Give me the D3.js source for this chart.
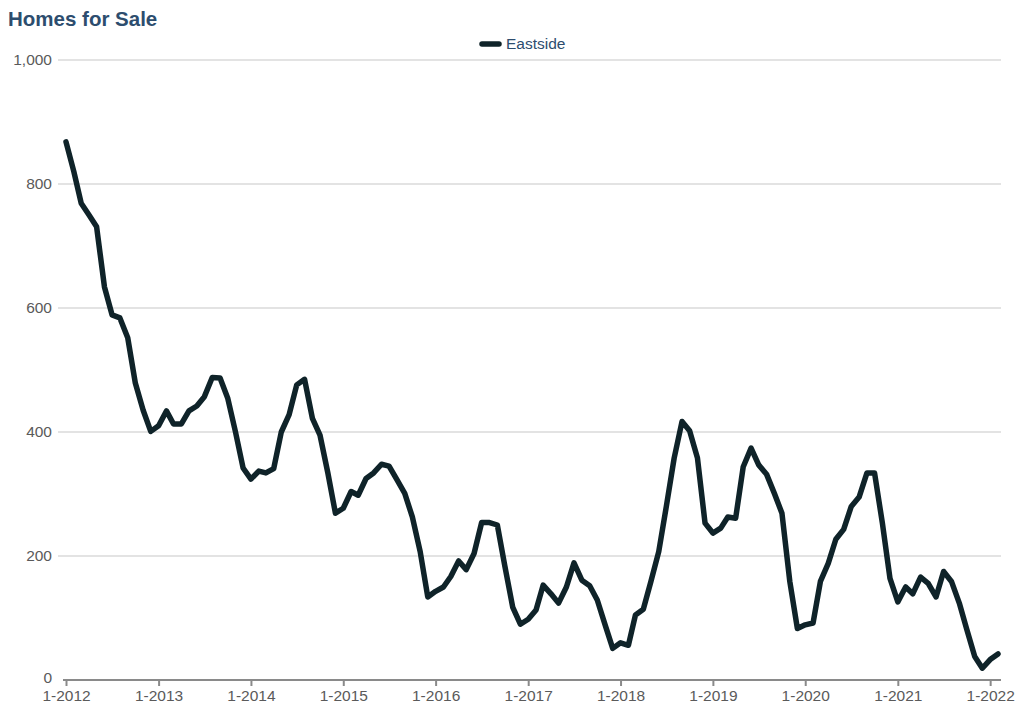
<!DOCTYPE html>
<html><head><meta charset="utf-8">
<script src="https://cdn.jsdelivr.net/npm/d3@7"></script>
<style>body{margin:0;background:#fff;font-family:"Liberation Sans",Arial,sans-serif;}</style>
</head><body><svg id="c" width="1024" height="710"></svg>
<script>
const title = "Homes for Sale";
const seriesName = "Eastside";
const startMonth = "2012-01";
const values = [
 868,820,769,750,731,634,589,584,552,479,435,401,
 410,434,413,413,434,442,457,488,487,455,400,342,
 324,337,334,341,400,428,476,485,422,395,334,269,
 277,304,298,325,334,348,345,323,301,263,207,134,
 143,150,167,192,178,204,254,254,250,183,117,90,
 98,113,153,139,124,150,189,161,152,129,89,51,
 60,56,105,114,159,207,280,358,417,402,358,253,
 237,245,263,261,344,374,347,332,301,269,159,83,
 89,92,159,188,227,243,280,295,334,334,253,164,
 126,150,139,166,156,134,175,159,124,81,38,19,
 33,42
];
const yTicks = [0,200,400,600,800,1000];
const xTickYears = [2012,2013,2014,2015,2016,2017,2018,2019,2020,2021,2022];

const parse = d3.timeParse("%Y-%m");
const t0 = parse(startMonth);
const data = values.map((v,i)=>({date:d3.timeMonth.offset(t0,i), value:v}));

const svg = d3.select("#c");
const x = d3.scaleTime().domain([t0, data[data.length-1].date]).range([66, 998]);
const y = d3.scaleLinear().domain([0,1000]).range([680, 60]);

// gridlines
svg.append("g").selectAll("line").data(yTicks.filter(d=>d>0)).join("line")
  .attr("x1",58).attr("x2",1001).attr("y1",d=>y(d)).attr("y2",d=>y(d))
  .attr("stroke","#c8c8c8").attr("stroke-width",1.2);

// y labels
svg.append("g").selectAll("text").data(yTicks).join("text")
  .attr("x",52).attr("y",d=>y(d) - (d===0?2:0)).attr("dy","0.35em").attr("text-anchor","end")
  .attr("font-size",15.5).attr("fill","#5a5a5a")
  .text(d=>d3.format(",")(d));

// x axis
const xAxis = d3.axisBottom(x)
  .tickValues(xTickYears.map(yr=>new Date(yr,0,1)))
  .tickFormat(d3.timeFormat("%-m-%Y"))
  .tickSize(6).tickSizeOuter(0).tickPadding(4);
const gx = svg.append("g").attr("transform","translate(0,680)").call(xAxis);
gx.select(".domain").remove();
gx.append("line").attr("x1",63).attr("x2",1001).attr("y1",0).attr("y2",0)
  .attr("stroke","#8a8a8a").attr("stroke-width",2);
gx.selectAll(".tick line").attr("stroke","#8a8a8a").attr("stroke-width",2);
gx.selectAll(".tick text").attr("font-size",15.5).attr("fill","#5a5a5a")
  .attr("font-family","Liberation Sans, Arial, sans-serif");

// line
const line = d3.line().x(d=>x(d.date)).y(d=>y(d.value)).curve(d3.curveLinear);
svg.append("path").datum(data).attr("d",line).attr("fill","none")
  .attr("stroke","#0f2329").attr("stroke-width",5.5).attr("stroke-linejoin","round").attr("stroke-linecap","round");

// title
svg.append("text").attr("x",8).attr("y",26).attr("font-size",20.5).attr("font-weight","bold")
  .attr("fill","#2d4d6e").text(title);

// legend
svg.append("line").attr("x1",482).attr("x2",499).attr("y1",44).attr("y2",44)
  .attr("stroke","#0f2329").attr("stroke-width",5.5).attr("stroke-linecap","round");
svg.append("text").attr("x",506).attr("y",44).attr("dy","0.35em").attr("font-size",15.5)
  .attr("fill","#2d4d6e").text(seriesName);
</script></body></html>
